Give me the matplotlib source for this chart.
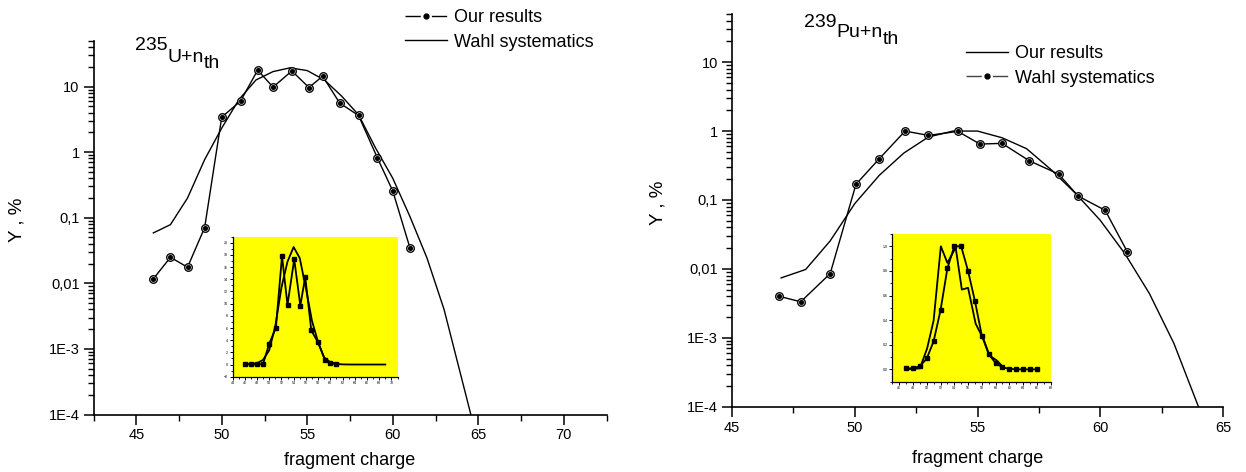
import matplotlib
matplotlib.use('Agg')
import matplotlib.pyplot as plt
from matplotlib.lines import Line2D
from matplotlib.ticker import MultipleLocator, LogLocator, NullFormatter

plt.rcParams['font.family'] = ['Liberation Sans', 'DejaVu Sans']

# ---------------- data: 235U + n_th ----------------
u_our_z = [46, 47, 48, 49, 50, 51.1, 52.1, 53, 54.1, 55.1, 55.9, 56.9, 58, 59.1, 60, 61]
u_our_y = [0.0117, 0.0249, 0.0176, 0.0707, 3.42, 6.0, 17.8, 9.8, 17.3, 9.66,
           14.4, 5.59, 3.62, 0.82, 0.256, 0.0351]
u_wahl_z = [46, 47, 48, 49, 50, 51, 52, 53, 54, 55, 56, 57, 58, 59, 60, 61, 62, 63, 64, 65]
u_wahl_y = [0.0587, 0.0785, 0.2, 0.77, 2.33, 6.3, 12.6, 16.9, 19.3, 17.5, 12.6, 7.2,
            3.7, 1.15, 0.40, 0.105, 0.0244, 0.004, 3.8e-4, 3.6e-5]
u_wahl_tail_z = [66, 67, 68, 69]
u_wahl_tail_y = [0, 0, 0, 0]

# ---------------- data: 239Pu + n_th ----------------
pu_line_z = [47, 48, 49, 50, 51, 52, 53, 54, 55, 56, 57, 58, 59, 60, 61, 62, 63, 64]
pu_line_y = [0.0074, 0.0098, 0.0255, 0.0885, 0.228, 0.48, 0.82, 1.0, 1.0, 0.80, 0.555,
             0.275, 0.124, 0.0507, 0.0167, 0.0044, 8.3e-4, 1.0e-4]
pu_line_tail_z = [65, 66]
pu_line_tail_y = [0, 0]
pu_mark_z = [46.9, 47.8, 49, 50.05, 51, 52.05, 53, 54.2, 55.1, 56, 57.1, 58.3, 59.1, 60.2, 61.1]
pu_mark_y = [0.00402, 0.00333, 0.00855, 0.169, 0.397, 1.0, 0.865, 0.99, 0.648, 0.663,
             0.372, 0.238, 0.114, 0.0708, 0.0178]

log_ticks = [1e-4, 1e-3, 1e-2, 1e-1, 1, 10]
log_labels = ['1E-4', '1E-3', '0,01', '0,1', '1', '10']

W, H = 1246, 472
fig = plt.figure(figsize=(W / 100, H / 100), dpi=100)


def fa(x0, y0, x1, y1):
    return [x0 / W, 1 - y1 / H, (x1 - x0) / W, (y1 - y0) / H]


def style_main(ax, xlim, xmaj):
    ax.set_yscale('log')
    ax.set_ylim(1e-4, 50)
    ax.set_xlim(*xlim)
    for s in ('top', 'right'):
        ax.spines[s].set_visible(False)
    for s in ('left', 'bottom'):
        ax.spines[s].set_linewidth(1.2)
    ax.set_yticks(log_ticks, log_labels)
    ax.yaxis.set_minor_locator(LogLocator(base=10, subs=range(2, 10), numticks=30))
    ax.yaxis.set_minor_formatter(NullFormatter())
    ax.xaxis.set_major_locator(MultipleLocator(xmaj))
    ax.xaxis.set_minor_locator(MultipleLocator(xmaj / 2))
    ax.tick_params(which='major', direction='out', length=7, width=1.1, labelsize=10.5, pad=3)
    ax.tick_params(which='minor', direction='out', length=4, width=1.0)
    ax.set_xlabel('fragment charge', fontsize=13)
    ax.set_ylabel('Y , %', fontsize=13.5)


def style_inset(ax, xlim, ylim, xmaj, ymaj, yfmt):
    ax.set_facecolor('#ffff00')
    ax.set_xlim(*xlim)
    ax.set_ylim(*ylim)
    for s in ('top', 'right'):
        ax.spines[s].set_visible(False)
    for s in ('left', 'bottom'):
        ax.spines[s].set_linewidth(0.9)
    ax.xaxis.set_major_locator(MultipleLocator(xmaj))
    ax.xaxis.set_minor_locator(MultipleLocator(xmaj / 2))
    ax.yaxis.set_major_locator(MultipleLocator(ymaj))
    ax.yaxis.set_minor_locator(MultipleLocator(ymaj / 2))
    ax.yaxis.set_major_formatter(yfmt)
    ax.tick_params(which='major', direction='out', length=2.2, width=0.7, labelsize=2.6, pad=1)
    ax.tick_params(which='minor', direction='out', length=1.2, width=0.6)


# ---------------- left panel ----------------
ax1 = fig.add_axes(fa(93.5, 40.7, 606.5, 414.5))
style_main(ax1, (42.5, 72.5), 5)
ax1.plot(u_wahl_z, u_wahl_y, color='k', lw=1)
ax1.plot(u_our_z, u_our_y, color='k', lw=1, marker='o', ms=5.5,
         mfc='#cfcfcf', mec='k', mew=0.9)
ax1.plot(u_our_z, u_our_y, ls='none', marker='o', ms=2.6, color='k')
ax1.xaxis.set_label_coords(0.5, -0.10)
ax1.yaxis.set_label_coords(-0.132, 0.52)

# ---------------- right panel ----------------
ax2 = fig.add_axes(fa(732, 14, 1223, 406.7))
style_main(ax2, (45, 65), 5)
ax2.plot(pu_line_z, pu_line_y, color='k', lw=1)
ax2.plot(pu_mark_z, pu_mark_y, color='k', lw=1, marker='o', ms=5.5,
         mfc='#cfcfcf', mec='k', mew=0.9)
ax2.plot(pu_mark_z, pu_mark_y, ls='none', marker='o', ms=2.6, color='k')
ax2.xaxis.set_label_coords(0.5, -0.11)
ax2.yaxis.set_label_coords(-0.134, 0.52)

# ---------------- insets ----------------
ai1 = fig.add_axes(fa(232.5, 236.7, 397.5, 376.7))
style_inset(ai1, (44, 71), (-2, 21), 2, 2, '{x:.0f}')
ai1.plot(u_wahl_z + u_wahl_tail_z, u_wahl_y + u_wahl_tail_y, color='k', lw=1.3)
ai1.plot(u_our_z, u_our_y, color='k', lw=1.3, marker='s', ms=3.2)

ai2 = fig.add_axes(fa(892.3, 234, 1050.7, 381.7))
style_inset(ai2, (45, 68), (-0.1, 1.1), 2, 0.2, '{x:.1f}')
ai2.plot(pu_mark_z, pu_mark_y, color='k', lw=1.3)
ai2.plot(pu_line_z + pu_line_tail_z, pu_line_y + pu_line_tail_y, color='k', lw=1.3,
         marker='s', ms=3.2)

# ---------------- legends ----------------
h_mark = Line2D([], [], color='k', lw=1, marker='o', ms=3.5, dashes=(11, 8))
h_mark2 = Line2D([], [], color='#444444', lw=1, marker='o', ms=3.5, mfc='k', mec='k',
                 dashes=(11, 8))
h_line = Line2D([], [], color='k', lw=1)
leg_kw = dict(loc='upper left', frameon=False, fontsize=13, handlelength=2.3,
              handletextpad=0.4, labelspacing=0.42, borderpad=0, borderaxespad=0)
fig.legend([h_mark, h_line], ['Our results', 'Wahl systematics'],
           bbox_to_anchor=(405 / W, 1 - 9 / H), **leg_kw)
fig.legend([h_line, h_mark2], ['Our results', 'Wahl systematics'],
           bbox_to_anchor=(966 / W, 1 - 45 / H), **leg_kw)

# ---------------- reaction labels (chained pieces) ----------------
fs = 14
renderer = fig.canvas.get_renderer()


def chain_label(x0, pieces):
    x = x0
    for s, ybase in pieces:
        t = fig.text(x / W, 1 - ybase / H, s, fontsize=fs, va='baseline', ha='left')
        bb = t.get_window_extent(renderer)
        x = x + bb.width


chain_label(135, [('235', 50), ('U+n', 62), ('th', 67.5)])
chain_label(804, [('239', 26.7), ('Pu+n', 37), ('th', 44.5)])

fig.savefig('out.png', dpi=100)
